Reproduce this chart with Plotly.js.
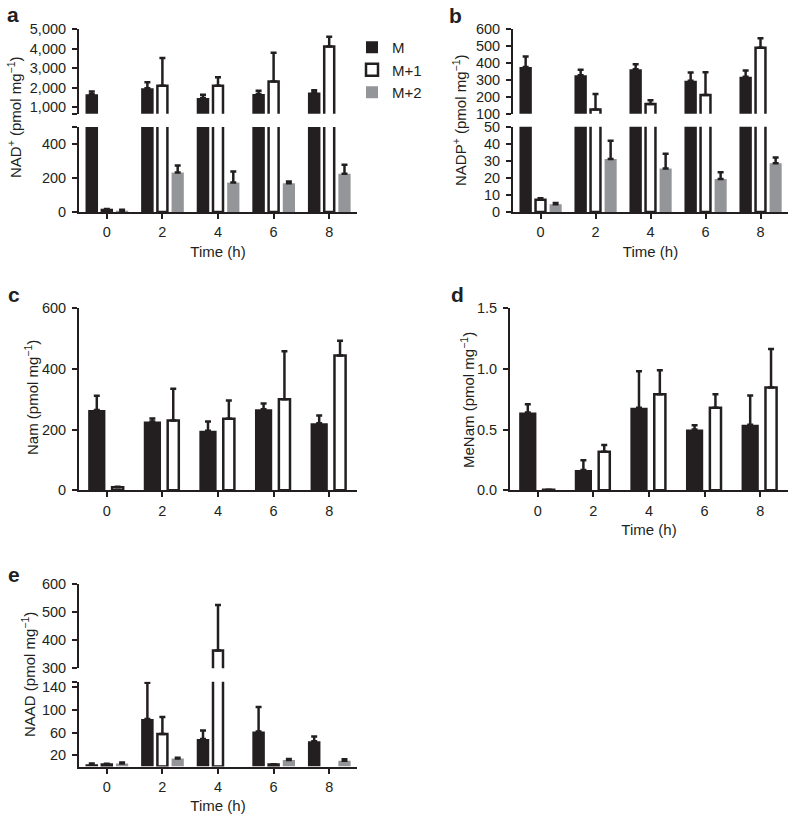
<!DOCTYPE html>
<html>
<head>
<meta charset="utf-8">
<script src="https://cdn.plot.ly/plotly-3.0.1.min.js"></script>
<style>
  html, body { margin: 0; padding: 0; background: #fff; }
  #chart { width: 788px; height: 815px; }
</style>
</head>
<body>
<div id="chart"></div>
<script>
// ---------------- data ----------------
const times = [0, 2, 4, 6, 8];
const timeLabels = ['0', '2', '4', '6', '8'];
const seriesNames = ['M', 'M+1', 'M+2'];

// a: NAD+ (pmol mg-1)
const nadM      = [1670, 1975, 1480, 1685, 1750];
const nadMErr   = [140, 310, 155, 155, 120];
const nadM1     = [12, 2095, 2095, 2315, 4110];
const nadM1Err  = [5, 1420, 445, 1470, 500];
const nadM2     = [8, 232, 173, 169, 225];
const nadM2Err  = [5, 42, 65, 10, 53];

// b: NADP+ (pmol mg-1)
const nadpM     = [376, 327, 363, 294, 318];
const nadpMErr  = [61, 32, 29, 49, 37];
const nadpM1    = [7.2, 125, 157, 210, 490];
const nadpM1Err = [0.8, 91, 23, 135, 55];
const nadpM2    = [4.5, 31.1, 25.5, 19.3, 28.6];
const nadpM2Err = [0.8, 10.7, 8.7, 4.0, 3.3];

// c: Nam (pmol mg-1)
const namM      = [265, 227, 196, 267, 221];
const namMErr   = [47, 10, 31, 19, 26];
const namM1     = [10, 230, 236, 300, 444];
const namM1Err  = [2, 105, 60, 158, 49];

// d: MeNam (pmol mg-1)
const menamM     = [0.64, 0.167, 0.68, 0.50, 0.54];
const menamMErr  = [0.068, 0.08, 0.30, 0.035, 0.24];
const menamM1    = [0.005, 0.318, 0.79, 0.68, 0.845];
const menamM1Err = [0, 0.055, 0.197, 0.11, 0.318];

// e: NAAD (pmol mg-1)
const naadM     = [4.2, 84, 48.8, 61.9, 44.6];
const naadMErr  = [1.2, 64, 15, 43.5, 8.4];
const naadM1    = [3.6, 57.7, 363, 3.6, null];
const naadM1Err = [1.2, 30, 162, 0.6, null];
const naadM2    = [5.4, 14.3, null, 11.3, 10];
const naadM2Err = [1.7, 1.2, null, 1.8, 3];

// tick labels
const nadUpperTicks  = [1000, 2000, 3000, 4000, 5000];
const nadUpperLabels = ['1,000', '2,000', '3,000', '4,000', '5,000'];
const nadLowerTicks  = [0, 200, 400];
const nadLowerLabels = ['0', '200', '400'];
const nadpUpperTicks = [100, 200, 300, 400, 500, 600];
const nadpLowerTicks = [0, 10, 20, 30, 40, 50];
const namTicks       = [0, 200, 400, 600];
const menamTicks     = [0, 0.5, 1.0, 1.5];
const menamLabels    = ['0.0', '0.5', '1.0', '1.5'];
const naadUpperTicks = [300, 400, 500, 600];
const naadLowerTicks = [20, 60, 100, 140];

// ---------------- styles ----------------
const INK = '#231f20';
const GREY = '#939598';
const FONT = 'Liberation Sans, Arial, Helvetica, sans-serif';
const W = 788, H = 815;
const px = v => v / W;
const py = v => 1 - v / H;

const styles = {
  'M':   { color: INK,       line: 0,   lineColor: INK },
  'M+1': { color: '#ffffff', line: 2.5, lineColor: INK },
  'M+2': { color: GREY,      line: 0,   lineColor: GREY }
};
// bar geometry in x units (hours): [offset, width]
const geom3 = { 'M': [-0.765, 0.45], 'M+1': [-0.18, 0.36], 'M+2': [0.33, 0.44] };
const geom2 = { 'M': [-0.67, 0.62], 'M+1': [0.19, 0.40] };

function bar(name, y, err, xa, ya, geom, showlegend) {
  const s = styles[name];
  return {
    type: 'bar', name: name, x: times, y: y,
    xaxis: xa, yaxis: ya,
    offset: geom[name][0], width: geom[name][1],
    marker: { color: s.color, line: { color: s.lineColor, width: s.line } },
    error_y: {
      type: 'data', symmetric: false, array: err,
      arrayminus: err.map(() => 0),
      color: INK, thickness: 2.5, width: 3
    },
    showlegend: !!showlegend, legendgroup: name,
    hoverinfo: 'x+y'
  };
}

const traces = [];
// panel a: lower (y) and upper (y2)
[['M', nadM, nadMErr], ['M+1', nadM1, nadM1Err], ['M+2', nadM2, nadM2Err]].forEach(([n, v, e]) => {
  traces.push(bar(n, v, e, 'x', 'y', geom3, true));
  traces.push(bar(n, v, e, 'x', 'y2', geom3, false));
});
// panel b: lower (y3) upper (y4)
[['M', nadpM, nadpMErr], ['M+1', nadpM1, nadpM1Err], ['M+2', nadpM2, nadpM2Err]].forEach(([n, v, e]) => {
  traces.push(bar(n, v, e, 'x2', 'y3', geom3, false));
  traces.push(bar(n, v, e, 'x2', 'y4', geom3, false));
});
// panel c
[['M', namM, namMErr], ['M+1', namM1, namM1Err]].forEach(([n, v, e]) => {
  traces.push(bar(n, v, e, 'x3', 'y5', geom2, false));
});
// panel d
[['M', menamM, menamMErr], ['M+1', menamM1, menamM1Err]].forEach(([n, v, e]) => {
  traces.push(bar(n, v, e, 'x4', 'y6', geom2, false));
});
// panel e: lower (y7) upper (y8)
[['M', naadM, naadMErr], ['M+1', naadM1, naadM1Err], ['M+2', naadM2, naadM2Err]].forEach(([n, v, e]) => {
  traces.push(bar(n, v, e, 'x5', 'y7', geom3, false));
  traces.push(bar(n, v, e, 'x5', 'y8', geom3, false));
});

const tickFont = { family: FONT, size: 14.5, color: INK };
function xAxis(domain, anchor, showTitle) {
  const ax = {
    domain: domain, anchor: anchor, range: [-1, 9],
    tickmode: 'array', tickvals: times, ticktext: timeLabels,
    ticks: 'outside', ticklen: 5, tickwidth: 2, tickcolor: INK,
    showline: true, linewidth: 2, linecolor: INK,
    showgrid: false, zeroline: false, fixedrange: true,
    tickfont: tickFont, ticklabelstandoff: 1
  };
  if (showTitle) ax.title = { text: 'Time (h)', font: { family: FONT, size: 15, color: INK }, standoff: 7 };
  return ax;
}
function yAxis(domain, anchor, range, tickvals, ticktext) {
  return {
    domain: domain, anchor: anchor, range: range,
    tickmode: 'array', tickvals: tickvals, ticktext: ticktext,
    ticks: 'outside', ticklen: 5, tickwidth: 2, tickcolor: INK,
    showline: true, linewidth: 2, linecolor: INK,
    showgrid: false, zeroline: false, fixedrange: true,
    tickfont: tickFont, ticklabelstandoff: 3
  };
}

const leftX = [px(79), px(357)];
const rightX = [px(513), 1];

const layout = {
  width: W, height: H,
  margin: { l: 0, r: 0, t: 0, b: 0 },
  paper_bgcolor: '#fff', plot_bgcolor: 'rgba(0,0,0,0)',
  barmode: 'overlay',
  font: { family: FONT, color: INK, size: 15 },
  showlegend: true,
  legend: {
    x: px(352), y: py(31), xanchor: 'left', yanchor: 'top',
    font: { family: FONT, size: 15, color: INK },
    bgcolor: 'rgba(0,0,0,0)', borderwidth: 0,
    tracegroupgap: 0, itemclick: false, itemdoubleclick: false
  },
  // panel a
  xaxis:  xAxis(leftX, 'y', true),
  yaxis:  yAxis([py(212), py(127)], 'x', [0, 500], nadLowerTicks.concat([500]), nadLowerLabels.concat([' '])),
  yaxis2: yAxis([py(113.7), py(29)], 'x', [673, 5000], [673].concat(nadUpperTicks), [' '].concat(nadUpperLabels)),
  // panel b
  xaxis2: xAxis(rightX, 'y3', true),
  yaxis3: yAxis([py(212), py(126.7)], 'x2', [0, 50], nadpLowerTicks, nadpLowerTicks.map(String)),
  yaxis4: yAxis([py(113.7), py(29)], 'x2', [100, 600], nadpUpperTicks, nadpUpperTicks.map(String)),
  // panel c
  xaxis3: xAxis(leftX, 'y5', false),
  yaxis5: yAxis([py(490.3), py(308.3)], 'x3', [0, 600], namTicks, namTicks.map(String)),
  // panel d
  xaxis4: xAxis([px(510), 1], 'y6', true),
  yaxis6: yAxis([py(490.3), py(308)], 'x4', [0, 1.5], menamTicks, menamLabels),
  // panel e
  xaxis5: xAxis(leftX, 'y7', true),
  yaxis7: yAxis([py(766.5), py(681.7)], 'x5', [0, 150], naadLowerTicks.concat([150]), naadLowerTicks.map(String).concat([' '])),
  yaxis8: yAxis([py(668.3), py(584)], 'x5', [300, 600], naadUpperTicks, naadUpperTicks.map(String)),
  annotations: []
};

// panel letters
[['a', 13, 14], ['b', 455, 15], ['c', 14, 294], ['d', 457, 294], ['e', 14, 574]].forEach(([t, x, y]) => {
  layout.annotations.push({
    text: '<b>' + t + '</b>', xref: 'paper', yref: 'paper',
    x: px(x), y: py(y), xanchor: 'center', yanchor: 'middle',
    showarrow: false, font: { family: FONT, size: 21, color: INK }
  });
});
// y-axis titles (centred over both segments of broken axes)
[['NAD<sup>+</sup> (pmol mg<sup>−1</sup>)', 14, 118],
 ['NADP<sup>+</sup> (pmol mg<sup>−1</sup>)', 459, 120],
 ['Nam (pmol mg<sup>−1</sup>)', 31, 398],
 ['MeNam (pmol mg<sup>−1</sup>)', 467, 400],
 ['NAAD (pmol mg<sup>−1</sup>)', 28, 675]].forEach(([t, x, y]) => {
  layout.annotations.push({
    text: t, xref: 'paper', yref: 'paper', x: px(x), y: py(y),
    xanchor: 'center', yanchor: 'middle', textangle: -90,
    showarrow: false, font: { family: FONT, size: 15, color: INK }
  });
});

Plotly.newPlot('chart', traces, layout, { staticPlot: true, displayModeBar: false });
</script>
</body>
</html>
